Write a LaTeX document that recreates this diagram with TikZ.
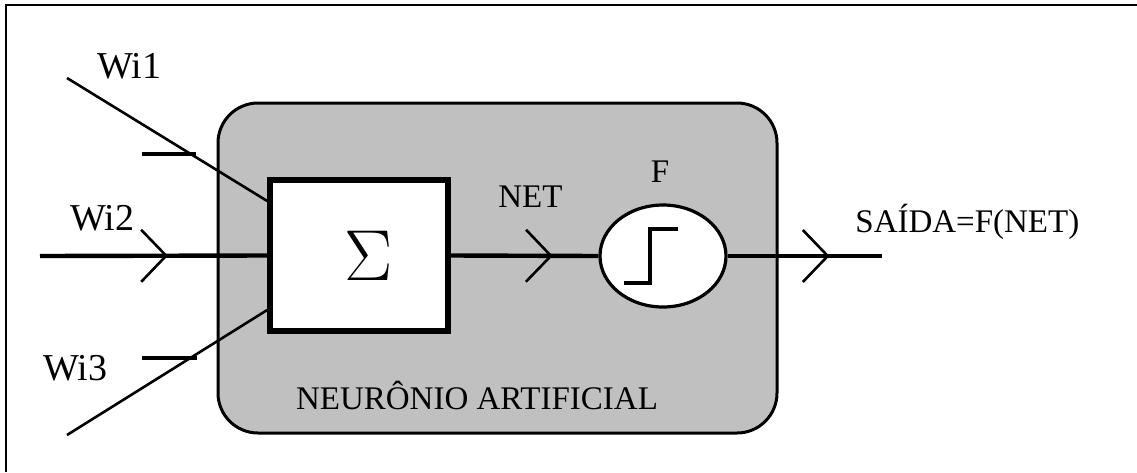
\documentclass[tikz,border=0pt]{standalone}
\usepackage{fontspec}
\setmainfont{Liberation Serif}
\usetikzlibrary{shapes.geometric,arrows.meta,decorations.markings,calc}
\definecolor{cinza}{HTML}{C0C0C0}

\begin{document}
\begin{tikzpicture}[x=0.5pt,y=-0.5pt,every node/.style={font=\fontsize{16.5}{19}\selectfont},
  caixa/.style={draw,line width=1.5pt,rounded corners=20pt,fill=cinza,minimum width=279.5pt,minimum height=165pt},
  soma/.style={draw,line width=2.8pt,fill=white,minimum width=89pt,minimum height=75.5pt,inner sep=0pt},
  ativ/.style={draw,ellipse,line width=1.6pt,fill=white,minimum width=63pt,minimum height=51pt,inner sep=0pt},
  fino/.style={line width=1.3pt},
  grosso/.style={line width=2.2pt},
  traco/.style={line width=2pt},
  seta/.style={postaction={decorate},decoration={markings,mark=at position #1 with {\arrow{Straight Barb[length=12.5pt,width=26pt,line width=1.3pt]}}}},
  rot/.style={inner sep=0pt},
  rotw/.style={inner sep=0pt,font=\fontsize{19}{22}\selectfont}]
\useasboundingbox (0,0) rectangle (1137,472);
\draw[line width=1pt] (6,472) -- (6,5) -- (1137,5);
% neuronio
\node[caixa] (neuronio) at (497.5,268) {};
\node[rot,anchor=base] (nome) at (477,409) {NEURÔNIO ARTIFICIAL};
% entradas
\coordinate (in1) at (67,78);
\coordinate (in2) at (40,256);
\coordinate (in3) at (67,435);
\coordinate (saida) at (882,256);
\node[soma] (soma) at (359,255.5) {};
\node[font=\Huge,inner sep=0pt] (sigma) at ($(soma.center)+(10,0)$) {\scalebox{1.45}{$\Sigma$}};
\draw[fino] (in1) -- ($(soma.north west)!0.152!(soma.south west)$);
\draw[fino] (in3) -- ($(soma.north west)!0.848!(soma.south west)$);
\draw[grosso,seta=64pt] (in2) -- (soma.west);
\draw[traco] (142,154) -- (196,154);
\draw[traco] (142,358) -- (197,358);
\node[rotw,anchor=base west] (w1) at (97,78) {Wi1};
\node[rotw,anchor=base west] (w2) at (70,230) {Wi2};
\node[rotw,anchor=base west] (w3) at (43,380) {Wi3};
% ativacao
\node[ativ] (ativ) at (663,256) {};
\draw[line width=2pt] ($(ativ)+(-39,27)$) -- ++(26,0) -- ++(0,-54) -- ++(28,0);
\draw[grosso,seta=51pt] (soma.east) -- (ativ.west);
\draw[grosso,seta=51pt] (ativ.east) -- (saida);
\node[rot,anchor=base west] (net) at (498,207) {NET};
\node[rot,anchor=base] (f) at (660,182) {F};
\node[rot,anchor=base west] (out) at (855,232) {SAÍDA=F(NET)};
\end{tikzpicture}
\end{document}
